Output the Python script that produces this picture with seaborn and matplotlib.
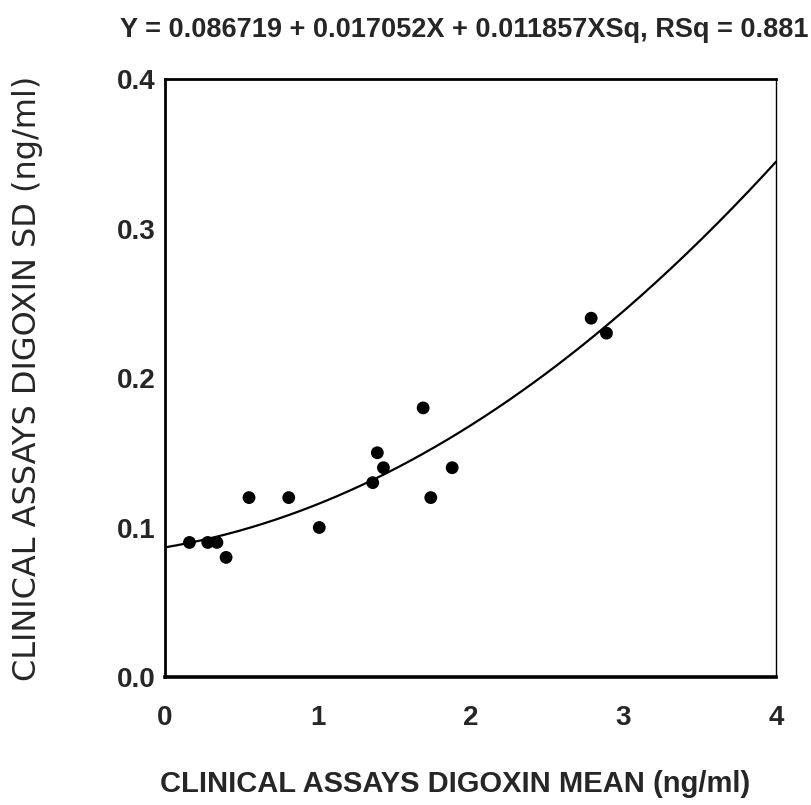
import numpy as np
import pandas as pd
import matplotlib
matplotlib.use('Agg')
import matplotlib.pyplot as plt
import seaborn as sns

# Dados
media = [0.16, 0.28, 0.34, 0.40, 0.55, 0.81, 1.01, 1.36, 1.39, 1.43,
         1.69, 1.74, 1.88, 2.79, 2.89]
desvio = [0.09, 0.09, 0.09, 0.08, 0.12, 0.12, 0.10, 0.13, 0.15, 0.14,
          0.18, 0.12, 0.14, 0.24, 0.23]

# Coeficientes do ajuste quadratico (do titulo)
coef = [0.086719, 0.017052, 0.011857]
rsq = 0.881

x_ticks = [0, 1, 2, 3, 4]
y_ticks = [0.0, 0.1, 0.2, 0.3, 0.4]

df = pd.DataFrame({'media': media, 'desvio': desvio})

xs = np.linspace(0, 4, 200)
curva = pd.DataFrame({'x': xs, 'y': coef[0] + coef[1] * xs + coef[2] * xs ** 2})

sns.set_style('white')
plt.rcParams['font.family'] = ['Liberation Sans', 'DejaVu Sans']

fig = plt.figure(figsize=(8.12, 8.05), dpi=100)
ax = fig.add_axes([165 / 812, 1 - 677 / 805, 611 / 812, 598 / 805])

sns.lineplot(data=curva, x='x', y='y', color='black', linewidth=1.6, ax=ax)
sns.scatterplot(data=df, x='media', y='desvio', color='black', s=85,
                edgecolor='none', ax=ax, zorder=3)

ax.set_xlim(0, 4)
ax.set_ylim(0, 0.4)
ax.set_xticks(x_ticks)
ax.set_yticks(y_ticks)
ax.set_xticklabels([str(t) for t in x_ticks], fontsize=20, fontweight='bold')
ax.set_yticklabels([f'{t:.1f}' for t in y_ticks], fontsize=20, fontweight='bold')
ax.tick_params(axis='x', direction='out', length=6, width=1.2, pad=14, color='black')
ax.tick_params(axis='y', direction='out', length=6.5, width=1.2, pad=0.5, color='black')

for lado, lw in [('left', 2.0), ('bottom', 2.6), ('top', 2.0), ('right', 1.0)]:
    ax.spines[lado].set_visible(True)
    ax.spines[lado].set_color('black')
    ax.spines[lado].set_linewidth(lw)

ax.set_xlabel('CLINICAL ASSAYS DIGOXIN MEAN (ng/ml)', fontsize=21,
              fontweight='bold', labelpad=28)
ax.xaxis.label.set_x(0.475)
ax.set_ylabel('CLINICAL ASSAYS DIGOXIN SD (ng/ml)', fontsize=23,
              family='DejaVu Sans', labelpad=53)
ax.set_title(f'Y = {coef[0]:.6f} + {coef[1]:.6f}X + {coef[2]:.6f}XSq, RSq = {rsq:.3f}',
             fontsize=19.5, fontweight='bold', pad=30, x=0.489)

fig.savefig('out.png', dpi=100)
